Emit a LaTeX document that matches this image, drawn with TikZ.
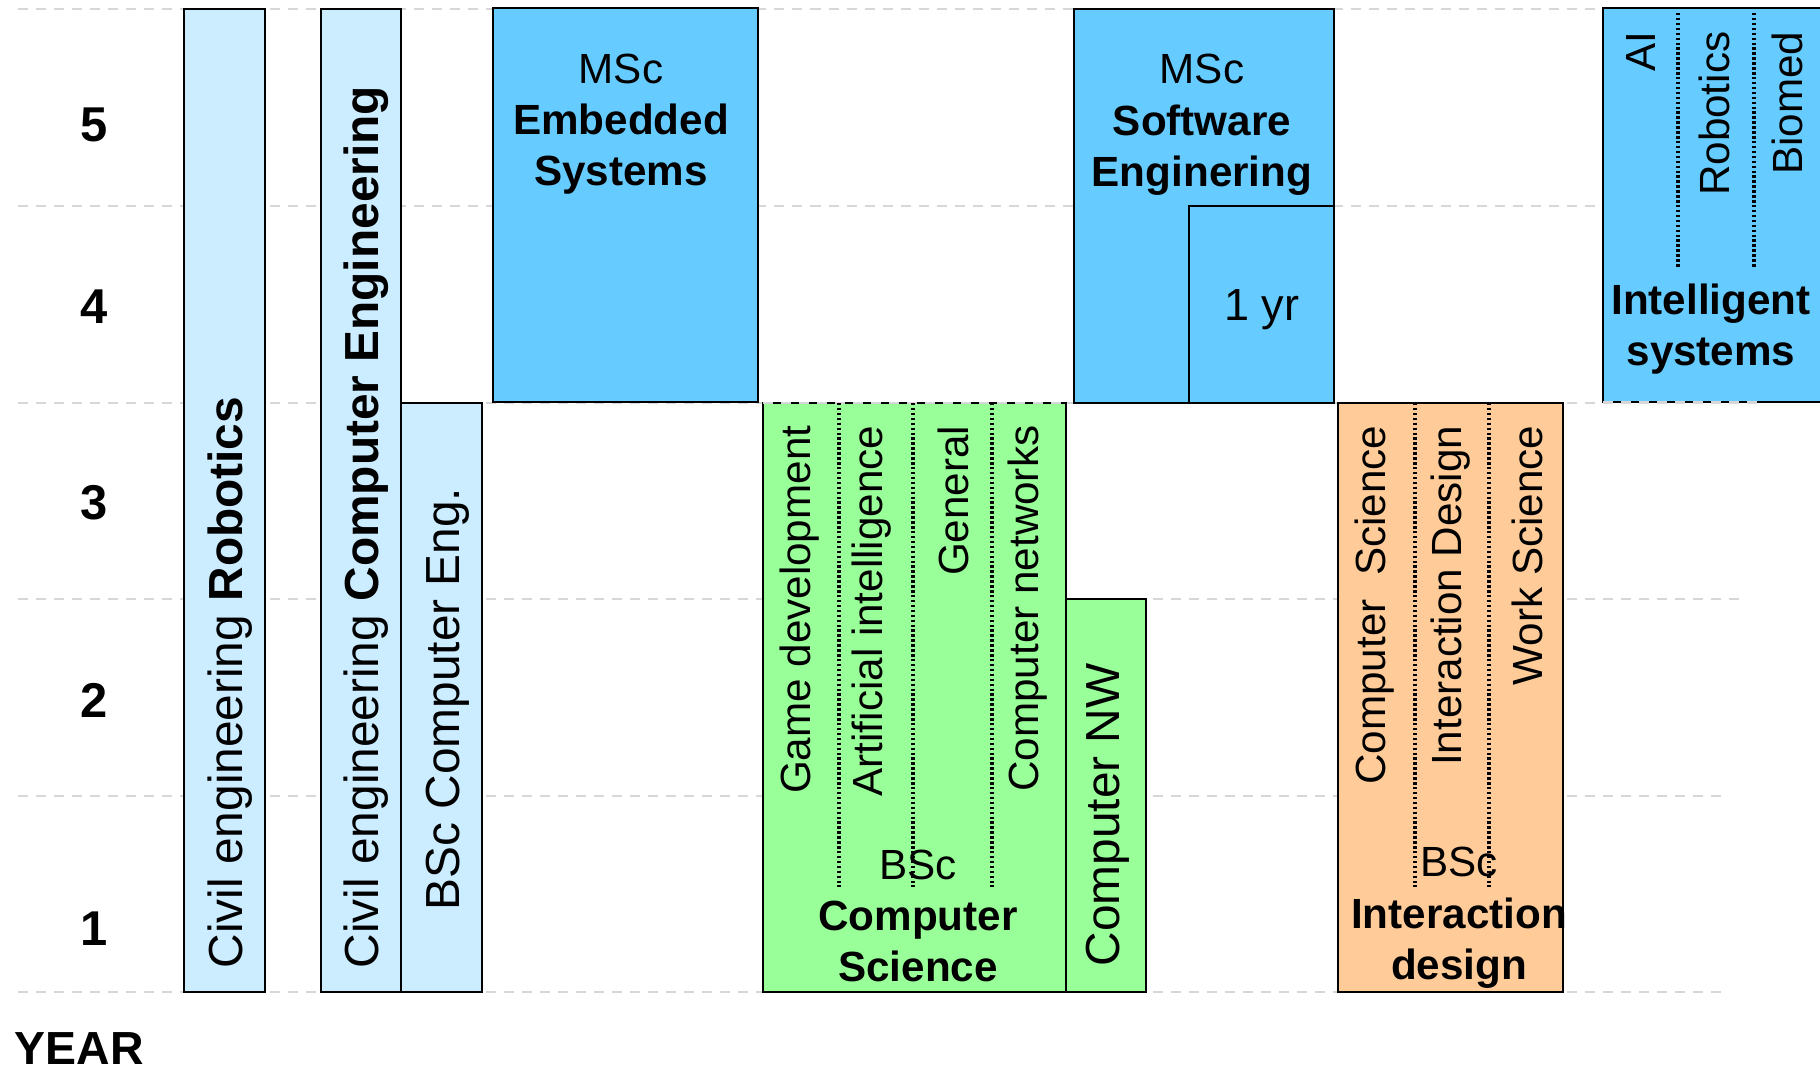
\documentclass[tikz,border=0pt]{standalone}
\usepackage{fontspec}
\setmainfont{Liberation Sans}
\definecolor{bscblue}{RGB}{204, 236, 255}
\definecolor{mscblue}{RGB}{102, 204, 255}
\definecolor{csgreen}{RGB}{153, 255, 153}
\definecolor{idorange}{RGB}{255, 204, 153}
\definecolor{gridgray}{RGB}{215, 215, 215}
\newcommand{\bigsize}{\fontsize{13.6}{16.3}\selectfont}
\newcommand{\textsize}{\fontsize{12}{14.6}\selectfont}

\begin{document}
\begin{tikzpicture}[
        x=0.01cm, y=-0.01cm,
        gridline/.style={gridgray, line width=0.8pt, dash pattern=on 0.1cm off 0.08cm},
        box/.style={draw, line width=0.8pt},
        divider/.style={line width=0.9pt, dash pattern=on 0.7pt off 0.7pt},
        boxtext/.style={inner sep=0pt, align=center, font=\textsize},
        vtext/.style={inner sep=0pt, rotate=90, font=\textsize},
        vbigtext/.style={inner sep=0pt, rotate=90, font=\bigsize},
        yearnum/.style={inner sep=0pt, font=\fontsize{13.9}{16.7}\selectfont\bfseries}
    ]
        \useasboundingbox (0,0) rectangle (1820,1069);

        % Year grid
        \foreach \gy/\gx in {9/1758, 206/1758, 403/1758, 599/1745, 796/1728, 992/1728}
            \draw[gridline] (18,\gy) -- (\gx,\gy);

        % Civil engineering and BSc Computer Eng.
        \draw[box, fill=bscblue] (184,9) rectangle (265,992);
        \draw[box, fill=bscblue] (321,9) rectangle (401,992);
        \draw[box, fill=bscblue] (401,403) rectangle (482,992);

        % MSc programmes
        \draw[box, fill=mscblue] (493,8) rectangle (758,402);
        \draw[box, fill=mscblue] (1074,9) rectangle (1334,403);
        \draw[box, fill=mscblue] (1189,206) rectangle (1334,403);
        \draw[box, fill=mscblue] (1603,8) rectangle (1840,402);

        % BSc Computer Science
        \draw[box, fill=csgreen] (763,403) rectangle (1066,992);
        \draw[box, fill=csgreen] (1066,599) rectangle (1146,992);

        % BSc Interaction design
        \draw[box, fill=idorange] (1338,403) rectangle (1563,992);

        % grid on top of some edges
        \draw[gridline] (763,403) -- (1066,403);
        \draw[gridline] (1603,402) -- (1758,402);

        % Profile dividers
        \foreach \dx in {839, 913, 992, 1415, 1489}
            \draw[divider] (\dx,403) -- (\dx,887);
        \foreach \dx in {1678, 1754}
            \draw[divider] (\dx,13) -- (\dx,269);

        % Years
        \node[yearnum] (y5) at (94,125) {5};
        \node[yearnum] (y4) at (94,307) {4};
        \node[yearnum] (y3) at (94,503) {3};
        \node[yearnum] (y2) at (94,700) {2};
        \node[yearnum] (y1) at (94,929) {1};
        \node[yearnum, font=\fontsize{13.2}{16}\selectfont\bfseries, anchor=base west] (year) at (14,1064) {YEAR};

        % Vertical programme names
        \node[vbigtext, anchor=west] (rob) at (230,969) {Civil engineering \textbf{Robotics}};
        \node[vbigtext, anchor=west] (coe) at (366,969) {Civil engineering \textbf{Computer Engineering}};
        \node[vbigtext] (bsce) at (448,699) {BSc Computer Eng.};
        \node[vbigtext, anchor=west] (cnw) at (1108,967) {Computer NW};

        % Profiles
        \node[vtext, anchor=east] (game) at (800,425) {Game development};
        \node[vtext, anchor=east] (ai) at (872,425) {Artificial intelligence};
        \node[vtext, anchor=east] (gen) at (953,425) {General};
        \node[vtext, anchor=east] (net) at (1028,425) {Computer networks};
        \node[vtext, anchor=east] (ics) at (1375,425) {Computer\ \ Science};
        \node[vtext, anchor=east] (iid) at (1451,425) {Interaction Design};
        \node[vtext, anchor=east] (iws) at (1527,425) {Work Science};
        \node[vtext, anchor=east] (isai) at (1641,31) {AI};
        \node[vtext, anchor=east] (isrob) at (1714,31) {Robotics};
        \node[vtext, anchor=east] (isbio) at (1787,31) {Biomed};

        % Programme titles
        \node[boxtext] (emb) at (621,124) {MSc\\\textbf{Embedded}\\\textbf{Systems}};
        \node[boxtext] (soft) at (1202,125) {MSc\\\textbf{Software}\\\textbf{Enginering}};
        \node[boxtext, font=\fontsize{12.8}{15}\selectfont] (oneyr) at (1262,310) {1 yr};
        \node[boxtext] (bsccs) at (918,916) {BSc\\\textbf{Computer}\\\textbf{Science}};
        \node[boxtext] (bscid) at (1459,918) {BSc\\\textbf{Interaction}\\\textbf{design}};
        \node[boxtext] (intel) at (1711,329) {\textbf{Intelligent}\\\textbf{systems}};
    \end{tikzpicture}
\end{document}
